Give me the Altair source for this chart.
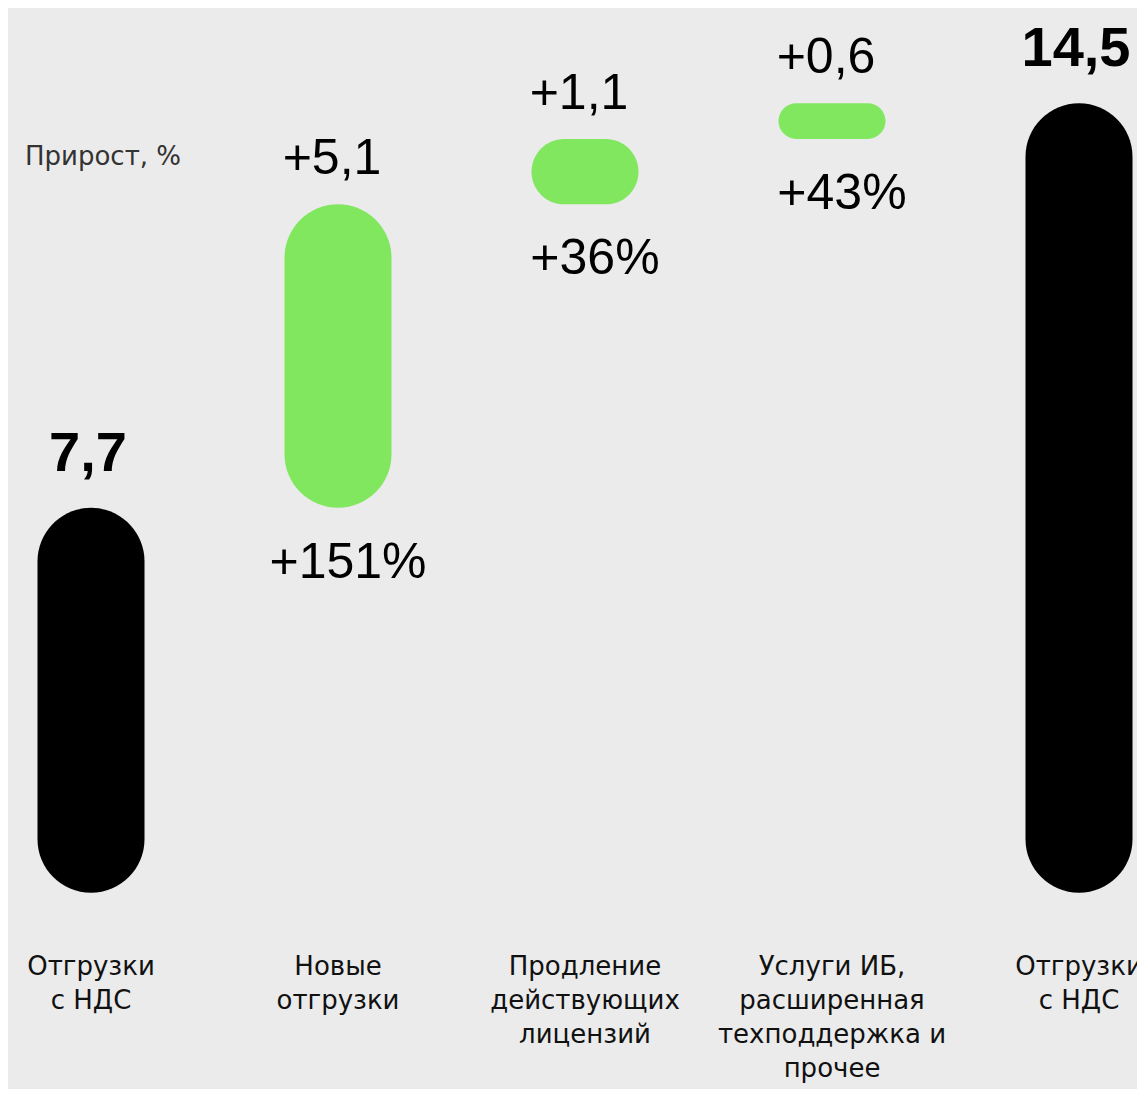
import altair as alt
import pandas as pd

# ---- data ----
keys = ["start", "new", "renew", "services", "end"]
category_labels = [
    "Отгрузки\nс НДС",
    "Новые\nотгрузки",
    "Продление\nдействующих\nлицензий",
    "Услуги ИБ,\nрасширенная\nтехподдержка и\nпрочее",
    "Отгрузки\nс НДС",
]
values = [7.7, 5.1, 1.1, 0.6, 14.5]
kinds = ["total", "delta", "delta", "delta", "total"]
value_labels = ["7,7", "+5,1", "+1,1", "+0,6", "14,5"]
pct_labels = ["", "+151%", "+36%", "+43%", ""]

BAR_FLOOR = 1.23  # visual floor of the total bars (their rounded bottoms)

# ---- waterfall positions ----
rows = []
running = 0.0
for k, lab, v, kind, vl, pl in zip(keys, category_labels, values, kinds, value_labels, pct_labels):
    if kind == "total":
        lo, hi = BAR_FLOOR, v
        running = v
    else:
        lo, hi = running, running + v
        running = hi
    rows.append(dict(key=k, label=lab, lo=lo, hi=hi, kind=kind, vlabel=vl, plabel=pl))
df = pd.DataFrame(rows)

W, H = 1129, 1081
x = alt.X("key:N", sort=keys, axis=None,
          scale=alt.Scale(type="point", range=[83, 1071], padding=0, round=False))
yscale = alt.Scale(domain=[-2.067, 16.1], nice=False, zero=False)

color = alt.Color("kind:N", legend=None,
                  scale=alt.Scale(domain=["total", "delta"], range=["#000000", "#80e75f"]))

base = alt.Chart(df)

bars = base.mark_bar(width=107, cornerRadius=54).encode(
    x=x,
    y=alt.Y("lo:Q", scale=yscale, axis=None),
    y2="hi:Q",
    color=color,
)

tot_labels = base.transform_filter(alt.datum.kind == "total").mark_text(
    font="Liberation Sans", fontSize=56, fontWeight="bold", baseline="alphabetic",
    align="center", dy=-37, dx=-3, color="#000000",
).encode(x=x, y=alt.Y("hi:Q", scale=yscale, axis=None), text="vlabel:N")

delta_labels = base.transform_filter(alt.datum.kind == "delta").mark_text(
    font="Liberation Sans", fontSize=50, baseline="alphabetic",
    align="center", dy=-30, dx=-6, color="#000000",
).encode(x=x, y=alt.Y("hi:Q", scale=yscale, axis=None), text="vlabel:N")

pct = base.transform_filter(alt.datum.kind == "delta").mark_text(
    font="Liberation Sans", fontSize=50, baseline="alphabetic",
    align="center", dy=70, dx=10, color="#000000",
).encode(x=x, y=alt.Y("lo:Q", scale=yscale, axis=None), text="plabel:N")

cats = base.mark_text(
    font="DejaVu Sans", fontSize=26, baseline="top", align="center",
    lineBreak="\n", lineHeight=34, color="#111111",
).encode(x=x, y=alt.value(946), text="label:N")

growth = alt.Chart(pd.DataFrame({"t": ["Прирост, %"]})).mark_text(
    font="DejaVu Sans", fontSize=26, align="left", baseline="middle", color="#333333",
).encode(x=alt.value(17), y=alt.value(149), text="t:N")

chart = alt.layer(bars, tot_labels, delta_labels, pct, cats, growth).properties(
    width=W, height=H,
    autosize=alt.AutoSizeParams(type="none"),
    padding=0,
    background="#ebebeb",
).configure_view(stroke=None)

chart.save("out.html", embed_options={"renderer": "svg", "actions": False})
